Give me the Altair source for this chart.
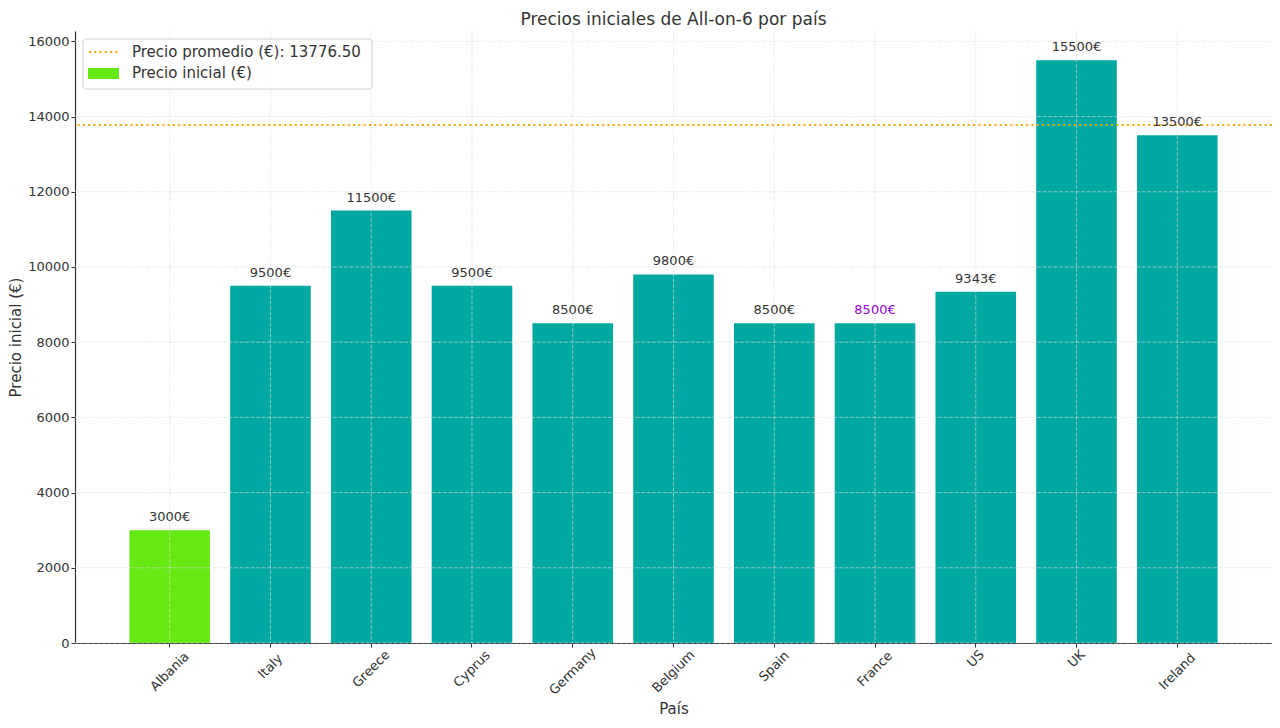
import altair as alt
import pandas as pd

paises = ["Albania", "Italy", "Greece", "Cyprus", "Germany", "Belgium",
          "Spain", "France", "US", "UK", "Ireland"]
precios = [3000, 9500, 11500, 9500, 8500, 9800, 8500, 8500, 9343, 15500, 13500]
precio_promedio = 13776.50
y_ticks = [0, 2000, 4000, 6000, 8000, 10000, 12000, 14000, 16000]

FONT = "DejaVu Sans"
TEAL = "#00a8a2"
GREEN = "#66e813"
ORANGE = "#f5a800"
TXT = "#333333"

df = pd.DataFrame({"Pais": paises, "Precio": precios})
df["etiqueta"] = [f"{v}€" for v in precios]
avg_df = pd.DataFrame({"y": [precio_promedio]})
ygrid_df = pd.DataFrame({"y": y_ticks})

x_scale = alt.Scale(domain=paises, paddingInner=0.2, paddingOuter=0.54)
y_scale = alt.Scale(domain=[0, 16275], nice=False, zero=True)

base = alt.Chart(df)

# rotated labels centred under the tick (like matplotlib rotation=45, ha='center')
x_label_pad = {"condition": {"test": "false", "value": 0},
               "expr": "0.354 * (length(datum.label) * 7.2 + 15) + 1"}

bars = base.mark_bar().encode(
    x=alt.X("Pais:N", scale=x_scale, sort=paises, title="País",
            axis=alt.Axis(labelAngle=-45, labelAlign="center", labelBaseline="middle",
                          labelPadding=x_label_pad, tickSize=4, grid=False,
                          titlePadding=4)),
    y=alt.Y("Precio:Q", scale=y_scale, title="Precio inicial (€)",
            axis=alt.Axis(values=y_ticks, format="d", tickSize=4, grid=False,
                          titlePadding=4)),
    color=alt.condition(alt.datum.Pais == "Albania", alt.value(GREEN), alt.value(TEAL)),
)

xgrid = base.mark_rule(color="#dddddd", strokeWidth=0.8, strokeDash=[4, 1.5], opacity=0.75).encode(
    x=alt.X("Pais:N", scale=x_scale, sort=paises)
)
ygrid = alt.Chart(ygrid_df).mark_rule(color="#dddddd", strokeWidth=0.8, strokeDash=[4, 1.5], opacity=0.75).encode(
    y=alt.Y("y:Q", scale=y_scale)
)

avg_line = alt.Chart(avg_df).mark_rule(color=ORANGE, strokeWidth=2, strokeDash=[2, 3.3]).encode(
    y=alt.Y("y:Q", scale=y_scale)
)

labels = base.mark_text(baseline="alphabetic", dy=-9, fontSize=13, font=FONT).encode(
    x=alt.X("Pais:N", scale=x_scale, sort=paises),
    y=alt.Y("Precio:Q", scale=y_scale),
    text="etiqueta:N",
    color=alt.condition(alt.datum.Pais == "France", alt.value("#9400d3"), alt.value(TXT)),
)

# legend (decoration)
leg_df = pd.DataFrame({"a": [0]})
leg_box = alt.Chart(leg_df).mark_rect(fill="white", opacity=0.85, stroke="#cccccc",
                                      strokeWidth=1, cornerRadius=3).encode(
    x=alt.value(8), x2=alt.value(297), y=alt.value(8), y2=alt.value(58))
leg_line = alt.Chart(leg_df).mark_rule(color=ORANGE, strokeWidth=2, strokeDash=[2, 3.3]).encode(
    x=alt.value(14), x2=alt.value(44), y=alt.value(21))
leg_rect = alt.Chart(leg_df).mark_rect(color=GREEN).encode(
    x=alt.value(13), x2=alt.value(44), y=alt.value(37), y2=alt.value(48))
leg_t1 = alt.Chart(leg_df).mark_text(align="left", baseline="middle", fontSize=15,
                                     font=FONT, color=TXT,
                                     text=f"Precio promedio (€): {precio_promedio:.2f}").encode(
    x=alt.value(57), y=alt.value(21))
leg_t2 = alt.Chart(leg_df).mark_text(align="left", baseline="middle", fontSize=15,
                                     font=FONT, color=TXT, text="Precio inicial (€)").encode(
    x=alt.value(57), y=alt.value(42))

chart = alt.layer(bars, xgrid, ygrid, avg_line, labels,
                  leg_box, leg_line, leg_rect, leg_t1, leg_t2).properties(
    width=1197, height=612,
    title=alt.TitleParams("Precios iniciales de All-on-6 por país", fontSize=17,
                          font=FONT, fontWeight="normal", color=TXT,
                          anchor="middle", frame="group", offset=2),
    autosize=alt.AutoSizeParams(type="none"),
    padding={"left": 67, "top": 23, "right": 0, "bottom": 77},
).configure_view(stroke=None).configure_axis(
    labelFont=FONT, titleFont=FONT, labelFontSize=13, titleFontSize=15,
    labelColor=TXT, titleColor=TXT, titleFontWeight="normal",
    domainColor="#333333", domainWidth=1.2, tickColor="#333333", tickWidth=1,
)

chart.save("out.html", embed_options={"renderer": "svg", "actions": False})
